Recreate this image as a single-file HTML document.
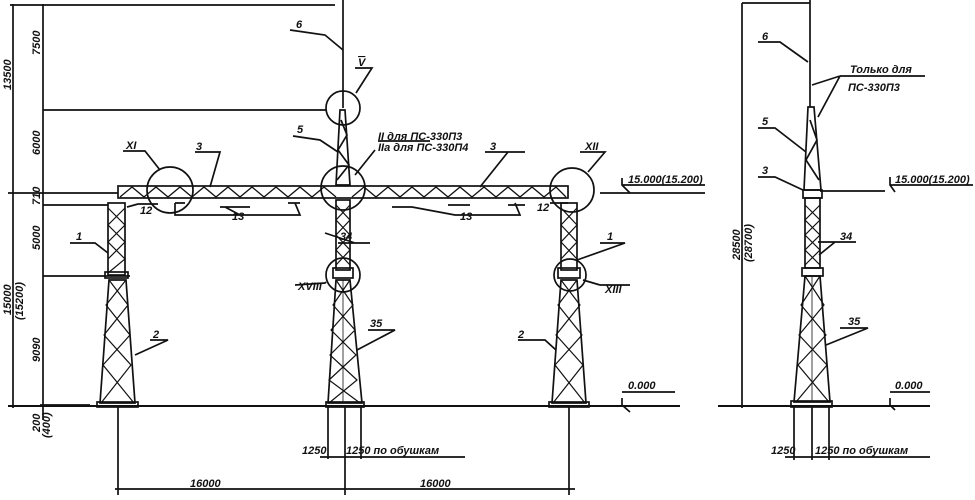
<!DOCTYPE html>
<html><head><meta charset="utf-8"><style>
html,body{margin:0;padding:0;background:#fff;}
svg{display:block}
text{font-family:"Liberation Sans",sans-serif;font-style:italic;font-size:11px;fill:#111}
</style></head><body>
<svg width="975" height="500" viewBox="0 0 975 500" xmlns="http://www.w3.org/2000/svg">
<g stroke="#111" fill="none" stroke-width="1.7">
<line x1="13" y1="4" x2="13" y2="408"/>
<line x1="43" y1="4" x2="43" y2="420"/>
<line x1="10" y1="5" x2="335" y2="5"/>
<line x1="43" y1="110" x2="326" y2="110"/>
<line x1="8" y1="193" x2="118" y2="193"/>
<line x1="43" y1="205" x2="108" y2="205"/>
<line x1="43" y1="276" x2="130" y2="276"/>
<line x1="40" y1="405" x2="90" y2="405"/>
<line x1="8" y1="406" x2="680" y2="406" stroke-width="2"/>
<line x1="118" y1="406" x2="118" y2="495"/>
<line x1="345" y1="406" x2="345" y2="495"/>
<line x1="569" y1="406" x2="569" y2="495"/>
<line x1="115" y1="489" x2="575" y2="489"/>
<line x1="328" y1="406" x2="328" y2="459"/>
<line x1="361" y1="406" x2="361" y2="459"/>
<line x1="320" y1="457" x2="465" y2="457"/>
<line x1="343" y1="0" x2="343" y2="108"/>
<circle cx="343" cy="108" r="17"/>
<path d="M340,110 L345,110 L350,185 L336,185 Z"/>
<path d="M341,120 L347,135 L338,150 L349,165 L337,180"/>
<rect x="118" y="186" width="450" height="12"/>
<path d="M120,197 L132,187 L144,197 L156,187 L168,197 L180,187 L192,197 L204,187 L216,197 L228,187 L240,197 L252,187 L264,197 L276,187 L288,197 L300,187 L312,197 L324,187 L336,197" stroke-width="1.3"/>
<path d="M352,197 L364,187 L376,197 L388,187 L400,197 L412,187 L424,197 L436,187 L448,197 L460,187 L472,197 L484,187 L496,197 L508,187 L520,197 L532,187 L544,197 L556,187 L566,197" stroke-width="1.3"/>
<line x1="600" y1="193" x2="705" y2="193"/>
<circle cx="170" cy="190" r="23"/>
<circle cx="343" cy="188" r="22"/>
<circle cx="572" cy="190" r="22"/>
<circle cx="343" cy="275" r="17"/>
<circle cx="570" cy="275" r="16"/>
<rect x="336" y="200" width="14" height="70"/>
<path d="M336,205 L350,220 L336,235 L350,250 L336,265 M350,205 L336,220 L350,235 L336,250 L350,265" stroke-width="1.2"/>
<rect x="333" y="268" width="20" height="10"/>
<path d="M336,280 L350,280 L362,403 L328,403 Z"/>
<path d="M336,280 L353,305 L331,330 L356,355 L329,380 L360,403 M350,280 L333,305 L355,330 L330,355 L357,380 L329,403" stroke-width="1.2"/>
<line x1="343" y1="280" x2="343" y2="403" stroke-width="0.8"/>
<rect x="326" y="402" width="38" height="5"/>
<rect x="108" y="203" width="17" height="72"/>
<path d="M108,208 L125,225 L108,242 L125,259 L108,273 M125,208 L108,225 L125,242 L108,259" stroke-width="1.2"/>
<rect x="105" y="272" width="23" height="6"/>
<path d="M109,280 L126,280 L135,403 L100,403 Z"/>
<path d="M109,280 L128,305 L104,335 L131,365 L101,403 M126,280 L106,305 L130,335 L103,365 L134,403" stroke-width="1.2"/>
<rect x="97" y="402" width="41" height="5"/>
<rect x="561" y="203" width="16" height="67"/>
<path d="M561,208 L577,225 L561,242 L577,259 M577,208 L561,225 L577,242 L561,259" stroke-width="1.2"/>
<rect x="558" y="268" width="22" height="10"/>
<path d="M561,280 L577,280 L586,403 L552,403 Z"/>
<path d="M561,280 L580,305 L556,335 L583,365 L553,403 M577,280 L558,305 L582,335 L555,365 L585,403" stroke-width="1.2"/>
<rect x="549" y="402" width="40" height="5"/>
<path d="M290,30 L325,35 L343,50"/>
<path d="M355,68 L372,68 L356,93"/>
<path d="M293,136 L320,140 L338,152"/>
<path d="M378,141 L430,141 M375,150 L355,175"/>
<path d="M485,152 L525,152 L508,152 L480,187"/>
<path d="M195,152 L220,152 L210,187"/>
<path d="M123,151 L145,151 L160,170"/>
<path d="M580,152 L605,152 L588,172"/>
<path d="M138,204 L127,207 M138,204 L158,204"/>
<path d="M550,203 L568,203"/>
<path d="M70,243 L95,243 L108,253"/>
<path d="M600,243 L625,243 L577,260"/>
<path d="M325,233 L355,243 M338,243 L370,243"/>
<path d="M295,285 L325,283 L326,282"/>
<path d="M600,285 L630,285 M583,280 L600,285"/>
<path d="M150,340 L168,340 L135,355"/>
<path d="M518,340 L545,340 L556,350"/>
<path d="M368,330 L395,330 L357,350"/>
<path d="M175,203 L175,215 L300,215 L295,203 M175,203 L185,203 M225,207 L240,215 M220,207 L250,207 M288,203 L300,203 M392,207 L412,207 L455,215 L520,215 L515,203 M448,205 L470,205 M508,205 L525,205"/>
<path d="M622,178 L622,185 L630,193 M622,185 L705,185"/>
<path d="M622,398 L622,405 L630,412 M622,392 L675,392"/>
<line x1="742" y1="3" x2="742" y2="408"/>
<line x1="742" y1="3" x2="810" y2="3"/>
<line x1="718" y1="406" x2="930" y2="406" stroke-width="2"/>
<line x1="810" y1="0" x2="810" y2="107"/>
<path d="M808,107 L814,107 L821,190 L804,190 Z"/>
<path d="M810,120 L817,140 L806,160 L819,180"/>
<rect x="803" y="190" width="19" height="8"/>
<rect x="805" y="198" width="15" height="70"/>
<path d="M805,205 L820,220 L805,235 L820,250 L805,265 M820,205 L805,220 L820,235 L805,250 L820,265" stroke-width="1.2"/>
<rect x="802" y="268" width="21" height="8"/>
<path d="M805,276 L820,276 L830,402 L794,402 Z"/>
<path d="M805,276 L824,305 L799,335 L827,365 L796,402 M820,276 L801,305 L826,335 L798,365 L829,402" stroke-width="1.2"/>
<line x1="812" y1="276" x2="812" y2="402" stroke-width="0.8"/>
<rect x="791" y="401" width="41" height="6"/>
<line x1="794" y1="406" x2="794" y2="460"/>
<line x1="812" y1="406" x2="812" y2="460"/>
<line x1="829" y1="406" x2="829" y2="460"/>
<line x1="785" y1="457" x2="930" y2="457"/>
<path d="M758,42 L780,42 L808,62"/>
<path d="M840,76 L812,85 M840,76 L818,117 M840,76 L925,76"/>
<path d="M758,128 L775,128 L806,152"/>
<path d="M758,177 L775,177 L803,190 M820,191 L885,191 M890,177 L890,185 L895,192 M890,185 L973,185"/>
<path d="M818,242 L835,242 L856,242 M835,242 L819,255"/>
<path d="M840,328 L868,328 L826,345"/>
<path d="M890,398 L890,405 L895,410 M890,392 L930,392"/>
</g>
<g font-weight="bold">
<text x="296" y="28" font-size="12">6</text>
<text x="358" y="66" text-decoration="overline">V</text>
<text x="297" y="133" font-size="12">5</text>
<text x="378" y="140" font-size="9">II для ПС-330П3</text>
<text x="378" y="151" font-size="9">IIа для ПС-330П4</text>
<text x="490" y="150" font-size="12">3</text>
<text x="196" y="150" font-size="12">3</text>
<text x="126" y="149">XI</text>
<text x="585" y="150">XII</text>
<text x="140" y="214">12</text>
<text x="232" y="220">13</text>
<text x="460" y="220">13</text>
<text x="537" y="211">12</text>
<text x="76" y="240" font-size="12">1</text>
<text x="607" y="240" font-size="12">1</text>
<text x="340" y="240">34</text>
<text x="298" y="290" font-size="9">XVIII</text>
<text x="605" y="293" font-size="9">XIII</text>
<text x="153" y="338" font-size="12">2</text>
<text x="518" y="338" font-size="12">2</text>
<text x="370" y="327" font-size="12">35</text>
<text x="628" y="183" font-size="10">15.000(15.200)</text>
<text x="628" y="389" font-size="10">0.000</text>
<text x="302" y="454" font-size="10">1250</text>
<text x="346" y="454" font-size="10">1250 по обушкам</text>
<text x="190" y="487" font-size="12">16000</text>
<text x="420" y="487" font-size="12">16000</text>
<text font-size="9" transform="translate(11,90) rotate(-90)">13500</text>
<text font-size="9" transform="translate(40,55) rotate(-90)">7500</text>
<text font-size="9" transform="translate(40,155) rotate(-90)">6000</text>
<text font-size="9" transform="translate(40,205) rotate(-90)">710</text>
<text font-size="9" transform="translate(40,250) rotate(-90)">5000</text>
<text font-size="9" transform="translate(40,362) rotate(-90)">9090</text>
<text font-size="9" transform="translate(11,315) rotate(-90)">15000</text>
<text font-size="9" transform="translate(23,320) rotate(-90)">(15200)</text>
<text font-size="9" transform="translate(40,432) rotate(-90)">200</text>
<text font-size="9" transform="translate(50,438) rotate(-90)">(400)</text>
<text x="762" y="40" font-size="12">6</text>
<text x="850" y="73" font-size="10">Только для</text>
<text x="848" y="91" font-size="10">ПС-330П3</text>
<text x="762" y="125" font-size="12">5</text>
<text x="762" y="174" font-size="12">3</text>
<text x="895" y="183" font-size="10">15.000(15.200)</text>
<text x="840" y="240">34</text>
<text x="848" y="325" font-size="12">35</text>
<text x="895" y="389" font-size="10">0.000</text>
<text x="771" y="454" font-size="10">1250</text>
<text x="815" y="454" font-size="10">1250 по обушкам</text>
<text font-size="9" transform="translate(740,260) rotate(-90)">28500</text>
<text font-size="9" transform="translate(752,262) rotate(-90)">(28700)</text>
</g>
</svg>
</body></html>
